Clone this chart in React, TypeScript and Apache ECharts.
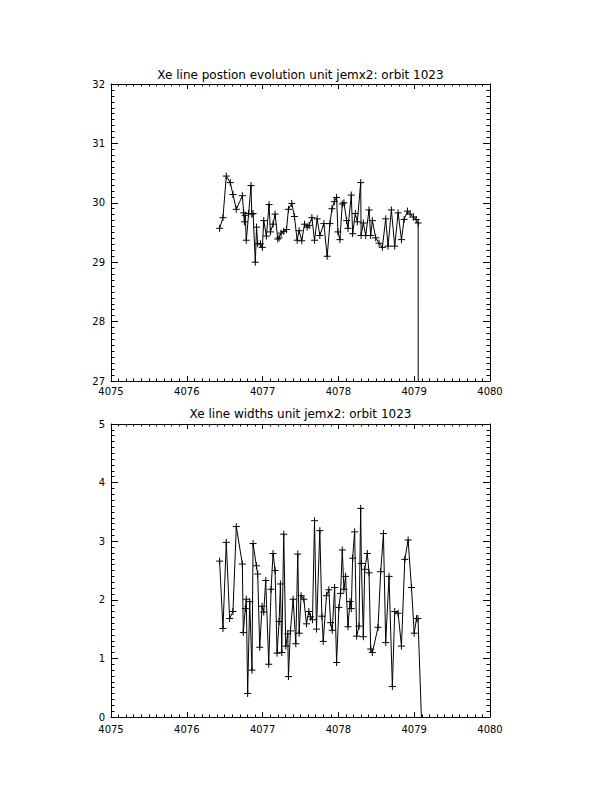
import React, { useEffect, useRef } from "react";
import * as echarts from "echarts";

const xTickLabels = ["4075", "4076", "4077", "4078", "4079", "4080"];
const posTitle = "Xe line postion evolution unit jemx2: orbit 1023";
const widthTitle = "Xe line widths unit jemx2: orbit 1023";

const posTimes = [
  4076.433, 4076.477, 4076.521, 4076.574, 4076.609, 4076.653, 4076.733, 4076.75, 4076.76, 4076.77,
  4076.785, 4076.816, 4076.847, 4076.857, 4076.874, 4076.904, 4076.92, 4076.935, 4076.971, 4076.997,
  4077.015, 4077.05, 4077.085, 4077.103, 4077.138, 4077.165, 4077.2, 4077.218, 4077.244, 4077.279,
  4077.315, 4077.341, 4077.385, 4077.42, 4077.456, 4077.482, 4077.517, 4077.553, 4077.588, 4077.614,
  4077.65, 4077.685, 4077.72, 4077.755, 4077.808, 4077.852, 4077.888, 4077.915, 4077.946, 4077.976,
  4077.994, 4078.02, 4078.051, 4078.073, 4078.109, 4078.126, 4078.17, 4078.188, 4078.223, 4078.25,
  4078.294, 4078.3, 4078.329, 4078.36, 4078.404, 4078.426, 4078.448, 4078.492, 4078.536, 4078.58,
  4078.624, 4078.655, 4078.699, 4078.743, 4078.788, 4078.832, 4078.867, 4078.911, 4078.946, 4078.99,
  4079.026, 4079.052, 4079.06,
];
const posValues = [
  29.57, 29.75, 30.45, 30.34, 30.14, 29.89, 30.12, 29.83, 29.68, 29.79,
  29.37, 29.82, 30.29, 29.81, 29.82, 29.0, 29.59, 29.31, 29.31, 29.25,
  29.7, 29.44, 29.97, 29.51, 29.64, 29.81, 29.39, 29.41, 29.49, 29.52,
  29.55, 29.89, 29.99, 29.77, 29.37, 29.53, 29.36, 29.64, 29.59, 29.62,
  29.75, 29.37, 29.73, 29.45, 29.65, 29.1, 29.65, 29.9, 30.02, 30.09,
  29.51, 29.38, 29.98, 30.0, 29.7, 29.57, 30.13, 29.48, 29.82, 29.68,
  30.34, 29.45, 29.66, 29.45, 29.88, 29.45, 29.7, 29.41, 29.32, 29.25,
  29.73, 29.27, 29.88, 29.27, 29.83, 29.38, 29.72, 29.86, 29.81, 29.76,
  29.72, 29.66, 0,
];

const widthTimes = [
  4076.433, 4076.477, 4076.521, 4076.565, 4076.609, 4076.653, 4076.733, 4076.745, 4076.772, 4076.785,
  4076.803, 4076.83, 4076.86, 4076.874, 4076.918, 4076.935, 4076.962, 4076.993, 4077.015, 4077.041,
  4077.081, 4077.112, 4077.138, 4077.165, 4077.191, 4077.218, 4077.235, 4077.253, 4077.279, 4077.306,
  4077.332, 4077.341, 4077.367, 4077.403, 4077.438, 4077.464, 4077.482, 4077.508, 4077.544, 4077.579,
  4077.61, 4077.632, 4077.658, 4077.685, 4077.711, 4077.755, 4077.782, 4077.8, 4077.843, 4077.874,
  4077.897, 4077.919, 4077.95, 4077.976, 4078.007, 4078.029, 4078.051, 4078.073, 4078.095, 4078.126,
  4078.153, 4078.17, 4078.188, 4078.214, 4078.241, 4078.272, 4078.294, 4078.303, 4078.329, 4078.347,
  4078.382, 4078.404, 4078.426, 4078.448, 4078.523, 4078.558, 4078.594, 4078.624, 4078.668, 4078.712,
  4078.743, 4078.788, 4078.832, 4078.876, 4078.92, 4078.964, 4079.0, 4079.03, 4079.05, 4079.1,
];
const widthValues = [
  2.66, 1.51, 2.98, 1.68, 1.8, 3.25, 2.61, 1.44, 1.85, 2.01,
  0.4, 1.97, 0.8, 2.96, 2.58, 2.44, 1.19, 1.89, 1.79, 2.33,
  0.9, 2.18, 2.79, 2.5, 1.09, 1.63, 2.27, 1.1, 3.12, 1.21,
  1.42, 0.69, 1.47, 2.01, 1.25, 2.78, 1.43, 2.07, 2.01, 1.59,
  1.8, 1.71, 1.66, 3.35, 1.5, 3.18, 1.72, 1.29, 2.07, 2.17,
  1.61, 1.48, 2.21, 0.93, 1.87, 2.11, 2.85, 2.18, 2.4, 1.54,
  1.97, 1.85, 2.71, 3.16, 1.38, 1.55, 3.56, 2.62, 1.37, 2.52,
  2.79, 2.46, 1.16, 1.1, 1.53, 2.48, 3.13, 1.27, 2.4, 0.52,
  1.8, 1.77, 1.21, 2.69, 3.02, 2.21, 1.43, 1.68, 1.68, -0.2,
];

const FONT = '"DejaVu Sans", sans-serif';
const CROSS = "path://M0,5L10,5M5,0L5,10";

function xAxes(gridIndex: number, labelMargin: number) {
  const base = {
    type: "value" as const,
    gridIndex,
    min: 4075,
    max: 4080,
    interval: 1,
    splitLine: { show: false },
    axisLine: { show: true, onZero: false, lineStyle: { color: "#000", width: 1 } },
    axisTick: { show: true, inside: true, length: 5, lineStyle: { color: "#000", width: 1 } },
    minorTick: { show: true, splitNumber: 10, length: 2.5, lineStyle: { color: "#000", width: 1 } },
    minorSplitLine: { show: false },
  };
  return [
    {
      ...base,
      position: "bottom",
      axisLabel: {
        show: true,
        color: "#000",
        fontFamily: FONT,
        fontSize: 10,
        margin: labelMargin,
        formatter: (v: number) => xTickLabels[Math.round(v - 4075)] ?? String(v),
      },
    },
    { ...base, position: "top", axisLabel: { show: false } },
  ];
}

function yAxes(gridIndex: number, min: number, max: number) {
  const base = {
    type: "value" as const,
    gridIndex,
    min,
    max,
    interval: 1,
    splitLine: { show: false },
    axisLine: { show: true, onZero: false, lineStyle: { color: "#000", width: 1 } },
    axisTick: { show: true, inside: true, length: 7, lineStyle: { color: "#000", width: 1 } },
    minorTick: { show: true, splitNumber: 10, length: 3.5, lineStyle: { color: "#000", width: 1 } },
    minorSplitLine: { show: false },
  };
  return [
    {
      ...base,
      position: "left",
      axisLabel: {
        show: true,
        color: "#000",
        fontFamily: FONT,
        fontSize: 10,
        margin: 6,
        formatter: (v: number) => String(v),
      },
    },
    { ...base, position: "right", axisLabel: { show: false } },
  ];
}

function lineSeries(xIdx: number, yIdx: number, times: number[], values: number[]) {
  return {
    type: "line",
    xAxisIndex: xIdx,
    yAxisIndex: yIdx,
    data: times.map((t, i) => [t, values[i]]),
    symbol: CROSS,
    symbolSize: 7,
    showSymbol: true,
    showAllSymbol: true,
    clip: true,
    silent: true,
    lineStyle: { color: "#000", width: 1 },
    itemStyle: { color: "none", borderColor: "#000", borderWidth: 1 },
    emphasis: { disabled: true },
  };
}

export default function App() {
  const ref = useRef<HTMLDivElement>(null);
  useEffect(() => {
    document.body.style.margin = "0";
    if (!ref.current) return;
    const chart = echarts.init(ref.current, null, { renderer: "svg" });
    chart.setOption({
      animation: false,
      backgroundColor: "#fff",
      grid: [
        { left: 111, top: 84, width: 379, height: 297 },
        { left: 111, top: 424, width: 379, height: 293 },
      ],
      xAxis: [...xAxes(0, 5), ...xAxes(1, 7)],
      yAxis: [...yAxes(0, 27, 32), ...yAxes(1, 0, 5)],
      series: [
        lineSeries(0, 0, posTimes, posValues),
        lineSeries(2, 2, widthTimes, widthValues),
      ],
      graphic: [
        {
          type: "text",
          x: 300.5,
          y: 75,
          style: {
            text: posTitle,
            font: `12px ${FONT}`,
            fill: "#000",
            textAlign: "center",
            textVerticalAlign: "middle",
          },
        },
        {
          type: "text",
          x: 300.5,
          y: 414,
          style: {
            text: widthTitle,
            font: `12px ${FONT}`,
            fill: "#000",
            textAlign: "center",
            textVerticalAlign: "middle",
          },
        },
      ],
    });
    return () => chart.dispose();
  }, []);
  return <div ref={ref} style={{ width: 612, height: 792 }} />;
}
